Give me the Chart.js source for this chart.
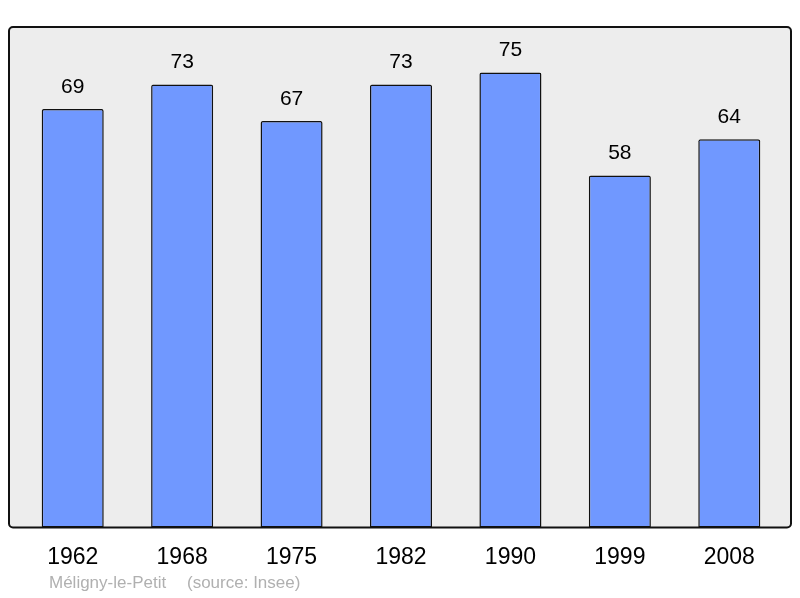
<!DOCTYPE html>
<html>
<head>
<meta charset="utf-8">
<script src="https://cdn.jsdelivr.net/npm/chart.js@4"></script>
<style>
  html, body { margin: 0; padding: 0; background: #fff; }
  #wrap { width: 800px; height: 598px; }
</style>
</head>
<body>
<div id="wrap"><canvas id="chart"></canvas></div>
<script>
const years = ['1962', '1968', '1975', '1982', '1990', '1999', '2008'];
const population = [69, 73, 67, 73, 75, 58, 64];
const placeName = 'Méligny-le-Petit';
const sourceText = '(source: Insee)';

const FONT = '"Liberation Sans", Arial, sans-serif';

// grey frame behind the bars
const framePlugin = {
  id: 'frame',
  beforeDraw: (chart) => {
    const { ctx, chartArea } = chart;
    const x0 = 9, x1 = 791, y0 = chartArea.top, y1 = chartArea.bottom;
    ctx.save();
    ctx.beginPath();
    ctx.roundRect(x0, y0, x1 - x0, y1 - y0, 4);
    ctx.fillStyle = '#ededed';
    ctx.fill();
    ctx.restore();
  },
  afterDatasetsDraw: (chart) => {
    const { ctx, chartArea } = chart;
    const x0 = 9, x1 = 791, y0 = chartArea.top, y1 = chartArea.bottom;
    ctx.save();
    ctx.beginPath();
    ctx.roundRect(x0, y0, x1 - x0, y1 - y0, 4);
    ctx.lineWidth = 2;
    ctx.strokeStyle = '#111';
    ctx.stroke();
    ctx.restore();
  }
};

const valueLabels = {
  id: 'valueLabels',
  afterDatasetsDraw: (chart) => {
    const { ctx } = chart;
    const meta = chart.getDatasetMeta(0);
    ctx.save();
    ctx.font = '21px ' + FONT;
    ctx.fillStyle = '#000';
    ctx.textAlign = 'center';
    ctx.textBaseline = 'middle';
    meta.data.forEach((bar, i) => {
      ctx.fillText(String(population[i]), bar.x, bar.y - 22);
    });
    // source line
    ctx.font = '17px ' + FONT;
    ctx.fillStyle = '#b0b0b0';
    ctx.textAlign = 'left';
    ctx.fillText(placeName, 49, 583);
    ctx.fillText(sourceText, 187, 583);
    ctx.restore();
  }
};

new Chart(document.getElementById('chart'), {
  type: 'bar',
  data: {
    labels: years,
    datasets: [{
      data: population,
      backgroundColor: '#7098ff',
      borderColor: '#111',
      borderWidth: 1.5,
      borderRadius: { topLeft: 2, topRight: 2 },
      borderSkipped: false,
      categoryPercentage: 1,
      barPercentage: 0.567
    }]
  },
  options: {
    responsive: true,
    maintainAspectRatio: false,
    animation: false,
    events: [],
    layout: { padding: { top: 27, left: 18, right: 16, bottom: 19 } },
    plugins: {
      legend: { display: false },
      tooltip: { enabled: false }
    },
    scales: {
      x: {
        grid: { display: false },
        border: { display: false },
        ticks: {
          color: '#000',
          font: { family: FONT, size: 23 },
          padding: 8
        }
      },
      y: {
        display: false,
        min: 0,
        max: 82.5
      }
    }
  },
  plugins: [framePlugin, valueLabels]
});
</script>
</body>
</html>
